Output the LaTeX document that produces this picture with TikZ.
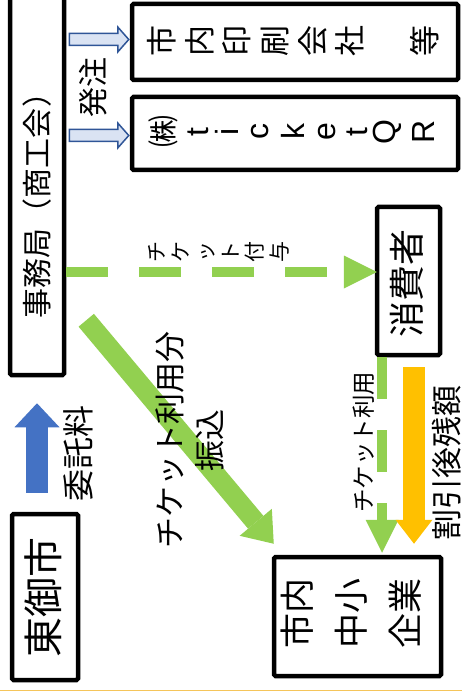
\documentclass[tikz,border=0pt]{standalone}
\usepackage{fontspec}
\setmainfont{Liberation Sans}
\newfontfamily\jp{Noto Sans CJK JP}
\usetikzlibrary{arrows.meta,calc}

\definecolor{lineblue}{HTML}{2F5597}
\definecolor{paleblue}{HTML}{DAE3F3}
\definecolor{itakublue}{HTML}{4472C4}
\definecolor{ticketgreen}{HTML}{92D050}
\definecolor{zangold}{HTML}{FFC000}
\definecolor{edgegold}{HTML}{F5C55A}

\tikzset{
  box/.style={draw, line width=4.5pt, rounded corners=1.5pt, inner sep=0pt},
  jtext/.style={font=\jp\fontsize{#1}{#1}\selectfont, rotate=90, inner sep=0pt},
  jstack/.style 2 args={font=\jp\fontsize{#1}{#2}\selectfont, rotate=90, align=center, inner sep=0pt},
  hollow/.style={draw=lineblue, fill=paleblue, line width=1.5pt, line join=miter},
  tdash/.style={ticketgreen, line width=10pt, dash pattern=on 42pt off 31pt,
    -{Triangle[width=33pt,length=33pt,line width=0pt]}},
}

\begin{document}
\begin{tikzpicture}[x=1pt,y=-1pt]
        \useasboundingbox (0,0) rectangle (462,692);

        % boxes
        \node[box, minimum width=54pt, minimum height=381pt] (jimu) at (37,184.5) {};
        \node[box, minimum width=66pt, minimum height=166pt] (higashi) at (45,597) {};
        \node[box, minimum width=326pt, minimum height=76pt] (insha) at (295,42) {};
        \node[box, minimum width=326pt, minimum height=73pt] (tq) at (295,133.5) {};
        \node[box, minimum width=63pt, minimum height=148pt] (shohi) at (408.5,281) {};
        \node[box, minimum width=167pt, minimum height=119pt] (kigyo) at (357.5,616.5) {};

        % orders
        \foreach \t/\dy in {insha/-2.5, tq/2} {
          \coordinate (s) at ($(jimu.east |- \t.west)+(3,\dy)$);
          \coordinate (e) at ($(\t.west)+(-1,\dy)$);
          \draw[hollow] ($(s)+(0,-6)$) -- ($(e)+(-11,-6)$) -- ($(e)+(-11,-12.5)$) -- (e)
            -- ($(e)+(-11,12.5)$) -- ($(e)+(-11,6)$) -- ($(s)+(0,6)$) -- cycle;
        }

        % fee
        \coordinate (itaku0) at ($(higashi.north)+(-8,-19)$);
        \coordinate (itaku1) at ($(jimu.south)+(0,26)$);
        \draw[itakublue, line width=22pt, -{Triangle[width=45pt,length=24pt,line width=0pt]}] (itaku0) -- (itaku1);

        % tickets
        \coordinate (fuyo0) at ($(jimu.east |- shohi.west)+(0,-9)$);
        \coordinate (fuyo1) at ($(shohi.west)+(2,-9)$);
        \draw[tdash] (fuyo0) -- (fuyo1);

        \coordinate (use0) at ($(shohi.south)+(-26.5,0)$);
        \coordinate (use1) at ($(kigyo.north -| use0)+(0,-2)$);
        \draw[tdash] (use0) -- (use1);

        \coordinate (zan0) at ($(shohi.south)+(5.5,10)$);
        \coordinate (zan1) at ($(kigyo.north -| zan0)+(0,-11)$);
        \draw[zangold, line width=22pt, -{Triangle[width=37pt,length=24pt,line width=0pt]}] (zan0) -- (zan1);

        \coordinate (furi0) at ($(jimu.south east)+(20,-57)$);
        \coordinate (furi1) at ($(kigyo.north west)+(2,-11)$);
        \draw[ticketgreen, line width=20pt, -{Triangle[width=42pt,length=28pt,line width=0pt]}] (furi0) -- (furi1);

        % texts
        \node[jtext=30] (jimutxt) at (37,198) {事務局（商工会）};
        \node[jtext=40] (higashitxt) at (43,597) {東御市};
        \node[jstack={31}{37.6}] (inshatxt) at (293.5,41) {市\\内\\印\\刷\\会\\社\\[37.6pt]等};
        \node[jtext=32] (kabu) at (163,132) {㈱};
        \foreach \c/\x [count=\i] in {t/198, i/227, c/260, k/293, e/327, t/357, Q/387, R/423} {
          \node[rotate=90, inner sep=0pt, font=\fontsize{32}{32}\selectfont] (tq\i) at (\x,132) {\c};
        }
        \node[jtext=30] (hatchu) at (93,88) {発注};
        \node[jtext=32] (itaku) at (78,453) {委託料};
        \node[jstack={21}{24.6}] (fuyo) at (218.5,252) {チ\\ケ\\ッ\\ト\\付\\与};
        \node[jstack={31}{40}] (furikomi) at (190,440) {チケット利用分\\振込};
        \node[jtext=36] (shohitxt) at (407,283) {消費者};
        \node[jtext=23.5] (riyo) at (364,442) {チケット利用};
        \node[jtext=31] (zangaku) at (447,463) {割引後残額};
        \node[jstack={35}{54}] (kigyotxt) at (351,613) {市内\\中小\\企業};

        \draw[edgegold, line width=1.2pt] (0,690.5) -- (462,690.5);
\end{tikzpicture}
\end{document}
